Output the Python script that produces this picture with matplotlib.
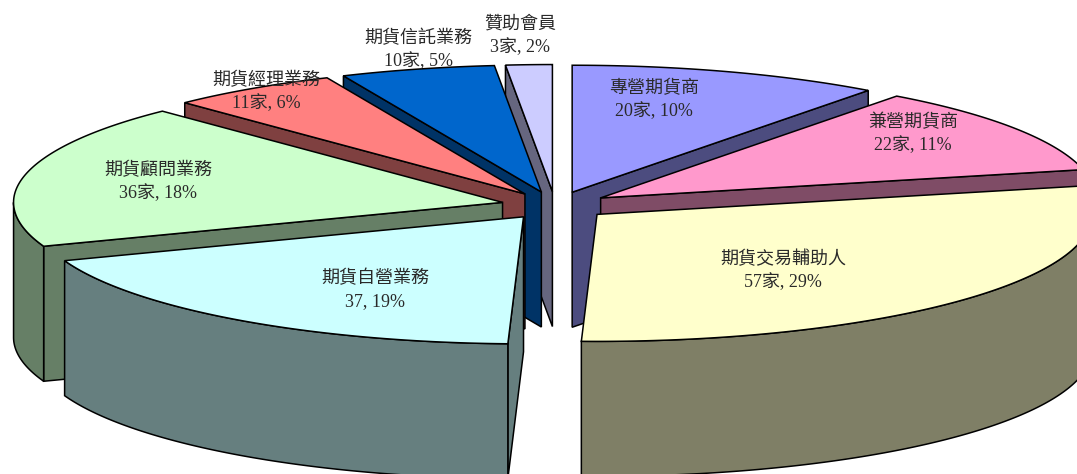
import numpy as np
import matplotlib
matplotlib.use("Agg")
import matplotlib.pyplot as plt
from matplotlib.patches import Polygon

names = ['專營期貨商', '兼營期貨商', '期貨交易輔助人', '期貨自營業務',
         '期貨顧問業務', '期貨經理業務', '期貨信託業務', '贊助會員']
counts = [20, 22, 57, 37, 36, 11, 10, 3]
count_text = ['20家', '22家', '57家', '37', '36家', '11家', '10家', '3家']
percents = [10, 11, 29, 19, 18, 6, 5, 2]

top_colors = ['#9999FF', '#FF99CC', '#FFFFCC', '#CCFFFF', '#CCFFCC', '#FF8080', '#0066CC', '#CCCCFF']
side_colors = ['#4C4C7F', '#7F4C66', '#7F7F66', '#667F7F', '#667F66', '#7F4040', '#003366', '#66667F']
# label centres in pixels
label_x = [654, 913, 783, 375, 158, 266, 418, 520]
label_y = [100, 134, 271, 290, 182, 92, 50, 36]

# pie geometry, in pixels. left half is a bit narrower than the right
cx, cy = 555, 205.5
rx_right, rx_left, ry = 495, 489, 127
depth = 135
explode = 0.11
lw = 1.1

fig = plt.figure(figsize=(10.77, 4.74), dpi=100)
ax = fig.add_axes([0, 0, 1, 1])
ax.set_xlim(0, 1077)
ax.set_ylim(474, 0)
ax.axis('off')

edges = np.cumsum([0] + counts) / sum(counts) * 2 * np.pi


def rim(t):
    s = np.sin(t)
    return np.column_stack([np.where(s > 0, rx_right, rx_left) * s, -ry * np.cos(t)])


def face(pts, color, z):
    ax.add_patch(Polygon(pts, closed=True, facecolor=color, edgecolor='black',
                         linewidth=lw, joinstyle='miter', zorder=z))


# back slices are drawn first, on each side of the gap
order = [0, 1, 2, 7, 6, 5, 4, 3]
z = 1
for i in order:
    t0, t1 = edges[i], edges[i + 1]
    mid = (t0 + t1) / 2
    apex = np.array([cx, cy]) + explode * rim(np.array([mid]))[0]
    down = np.array([0, depth])
    arc = apex + rim(np.linspace(t0, t1, 200))

    # only the radial wall facing the viewer
    t = None
    if t1 < np.pi:
        t = t1
    elif t0 > np.pi:
        t = t0
    if t is not None:
        p = apex + rim(np.array([t]))[0]
        face([apex, p, p + down, apex + down], side_colors[i], z)
        z += 1

    # outer wall, only the front half of the ellipse shows it
    a, b = max(t0, np.pi / 2), min(t1, 3 * np.pi / 2)
    if a < b:
        wall = apex + rim(np.linspace(a, b, 200))
        face(np.vstack([wall, (wall + down)[::-1]]), side_colors[i], z)
        z += 1

    # top
    face(np.vstack([apex, arc]), top_colors[i], z)
    z += 1

font = ['Liberation Serif', 'Noto Sans CJK TC']
for i in range(len(names)):
    ax.text(label_x[i], label_y[i], f"{names[i]}\n{count_text[i]}, {percents[i]}%",
            ha='center', va='center', family=font, fontsize=13, color='#2a2a2a',
            linespacing=1.4, zorder=100)

fig.savefig('out.png', dpi=100, facecolor='white')
